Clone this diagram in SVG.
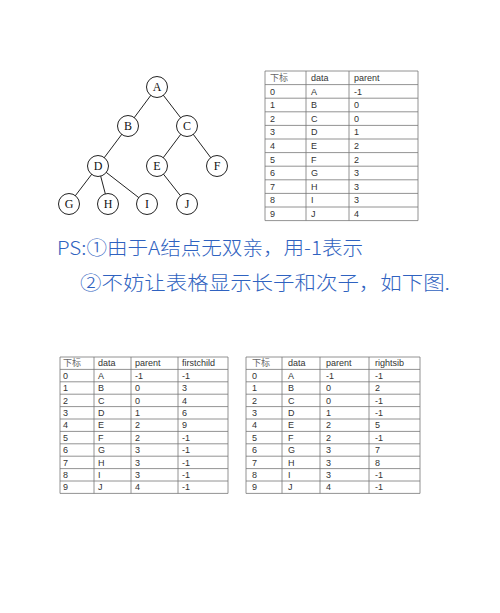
<svg xmlns="http://www.w3.org/2000/svg" width="500" height="613" viewBox="0 0 500 613">
<style>
.edge{stroke:#222;stroke-width:1}
.nd circle{fill:#fff;stroke:#222;stroke-width:1}
.nd text{font-family:"Liberation Serif",serif;font-size:12px;fill:#111;text-anchor:middle}
.grid{stroke:#777;stroke-width:0.8;fill:none}
.tb text{font-family:"Liberation Sans","Noto Sans CJK SC",sans-serif;font-size:9px;fill:#333}
.tb text.h{fill:#666}
.hw{font-family:"Noto Sans CJK SC",sans-serif;font-size:19px;fill:#2f62c0;font-weight:300}
</style>
<rect width="500" height="613" fill="#fff"/>
<g id="connectors">
<line class="edge" x1="157" y1="87" x2="128" y2="126"/>
<line class="edge" x1="157" y1="87" x2="187" y2="126"/>
<line class="edge" x1="128" y1="126" x2="98" y2="166"/>
<line class="edge" x1="187" y1="126" x2="157" y2="166"/>
<line class="edge" x1="187" y1="126" x2="217" y2="166"/>
<line class="edge" x1="98" y1="166" x2="69" y2="204"/>
<line class="edge" x1="98" y1="166" x2="108" y2="204"/>
<line class="edge" x1="98" y1="166" x2="147" y2="204"/>
<line class="edge" x1="157" y1="166" x2="187" y2="204"/>
</g>
<g id="nA" class="nd"><circle cx="157" cy="87" r="10.5"/><text x="157" y="91.3">A</text></g>
<g id="nB" class="nd"><circle cx="128" cy="126" r="10.5"/><text x="128" y="130.3">B</text></g>
<g id="nC" class="nd"><circle cx="187" cy="126" r="10.5"/><text x="187" y="130.3">C</text></g>
<g id="nD" class="nd"><circle cx="98" cy="166" r="10.5"/><text x="98" y="170.3">D</text></g>
<g id="nE" class="nd"><circle cx="157" cy="166" r="10.5"/><text x="157" y="170.3">E</text></g>
<g id="nF" class="nd"><circle cx="217" cy="166" r="10.5"/><text x="217" y="170.3">F</text></g>
<g id="nG" class="nd"><circle cx="69" cy="204" r="10.5"/><text x="69" y="208.3">G</text></g>
<g id="nH" class="nd"><circle cx="108" cy="204" r="10.5"/><text x="108" y="208.3">H</text></g>
<g id="nI" class="nd"><circle cx="147" cy="204" r="10.5"/><text x="147" y="208.3">I</text></g>
<g id="nJ" class="nd"><circle cx="187" cy="204" r="10.5"/><text x="187" y="208.3">J</text></g>

<g id="table1" class="tb">
<path class="grid" d="M265,71H418V220.6H265Z M306,71V220.6 M349,71V220.6 M265,84.6H418 M265,98.2H418 M265,111.8H418 M265,125.4H418 M265,139H418 M265,152.6H418 M265,166.2H418 M265,179.8H418 M265,193.4H418 M265,207H418"/>
<text class="h" x="270" y="81">下标</text><text x="311" y="81">data</text><text x="354" y="81">parent</text>
<text x="270" y="94.6">0</text><text x="311" y="94.6">A</text><text x="354" y="94.6">-1</text>
<text x="270" y="108.2">1</text><text x="311" y="108.2">B</text><text x="354" y="108.2">0</text>
<text x="270" y="121.8">2</text><text x="311" y="121.8">C</text><text x="354" y="121.8">0</text>
<text x="270" y="135.4">3</text><text x="311" y="135.4">D</text><text x="354" y="135.4">1</text>
<text x="270" y="149">4</text><text x="311" y="149">E</text><text x="354" y="149">2</text>
<text x="270" y="162.6">5</text><text x="311" y="162.6">F</text><text x="354" y="162.6">2</text>
<text x="270" y="176.2">6</text><text x="311" y="176.2">G</text><text x="354" y="176.2">3</text>
<text x="270" y="189.8">7</text><text x="311" y="189.8">H</text><text x="354" y="189.8">3</text>
<text x="270" y="203.4">8</text><text x="311" y="203.4">I</text><text x="354" y="203.4">3</text>
<text x="270" y="217">9</text><text x="311" y="217">J</text><text x="354" y="217">4</text>
</g>

<g id="note">
<text class="hw" x="57" y="255" textLength="306" lengthAdjust="spacingAndGlyphs">PS:①由于A结点无双亲，用-1表示</text>
<text class="hw" x="80" y="290" textLength="370" lengthAdjust="spacingAndGlyphs">②不妨让表格显示长子和次子，如下图.</text>
</g>

<g id="table2" class="tb">
<path class="grid" d="M60,357H228V493.4H60Z M94,357V493.4 M131,357V493.4 M178,357V493.4 M60,369.4H228 M60,381.8H228 M60,394.2H228 M60,406.6H228 M60,419H228 M60,431.4H228 M60,443.8H228 M60,456.2H228 M60,468.6H228 M60,481H228"/>
<text class="h" x="63" y="366.3">下标</text><text x="98" y="366.3">data</text><text x="135" y="366.3">parent</text><text x="182" y="366.3">firstchild</text>
<text x="63" y="378.7">0</text><text x="98" y="378.7">A</text><text x="135" y="378.7">-1</text><text x="182" y="378.7">-1</text>
<text x="63" y="391.1">1</text><text x="98" y="391.1">B</text><text x="135" y="391.1">0</text><text x="182" y="391.1">3</text>
<text x="63" y="403.5">2</text><text x="98" y="403.5">C</text><text x="135" y="403.5">0</text><text x="182" y="403.5">4</text>
<text x="63" y="415.9">3</text><text x="98" y="415.9">D</text><text x="135" y="415.9">1</text><text x="182" y="415.9">6</text>
<text x="63" y="428.3">4</text><text x="98" y="428.3">E</text><text x="135" y="428.3">2</text><text x="182" y="428.3">9</text>
<text x="63" y="440.7">5</text><text x="98" y="440.7">F</text><text x="135" y="440.7">2</text><text x="182" y="440.7">-1</text>
<text x="63" y="453.1">6</text><text x="98" y="453.1">G</text><text x="135" y="453.1">3</text><text x="182" y="453.1">-1</text>
<text x="63" y="465.5">7</text><text x="98" y="465.5">H</text><text x="135" y="465.5">3</text><text x="182" y="465.5">-1</text>
<text x="63" y="477.9">8</text><text x="98" y="477.9">I</text><text x="135" y="477.9">3</text><text x="182" y="477.9">-1</text>
<text x="63" y="490.3">9</text><text x="98" y="490.3">J</text><text x="135" y="490.3">4</text><text x="182" y="490.3">-1</text>
</g>

<g id="table3" class="tb">
<path class="grid" d="M246,357H420V493.4H246Z M282,357V493.4 M320,357V493.4 M369,357V493.4 M246,369.4H420 M246,381.8H420 M246,394.2H420 M246,406.6H420 M246,419H420 M246,431.4H420 M246,443.8H420 M246,456.2H420 M246,468.6H420 M246,481H420"/>
<text class="h" x="252" y="366.3">下标</text><text x="288" y="366.3">data</text><text x="326" y="366.3">parent</text><text x="375" y="366.3">rightsib</text>
<text x="252" y="378.7">0</text><text x="288" y="378.7">A</text><text x="326" y="378.7">-1</text><text x="375" y="378.7">-1</text>
<text x="252" y="391.1">1</text><text x="288" y="391.1">B</text><text x="326" y="391.1">0</text><text x="375" y="391.1">2</text>
<text x="252" y="403.5">2</text><text x="288" y="403.5">C</text><text x="326" y="403.5">0</text><text x="375" y="403.5">-1</text>
<text x="252" y="415.9">3</text><text x="288" y="415.9">D</text><text x="326" y="415.9">1</text><text x="375" y="415.9">-1</text>
<text x="252" y="428.3">4</text><text x="288" y="428.3">E</text><text x="326" y="428.3">2</text><text x="375" y="428.3">5</text>
<text x="252" y="440.7">5</text><text x="288" y="440.7">F</text><text x="326" y="440.7">2</text><text x="375" y="440.7">-1</text>
<text x="252" y="453.1">6</text><text x="288" y="453.1">G</text><text x="326" y="453.1">3</text><text x="375" y="453.1">7</text>
<text x="252" y="465.5">7</text><text x="288" y="465.5">H</text><text x="326" y="465.5">3</text><text x="375" y="465.5">8</text>
<text x="252" y="477.9">8</text><text x="288" y="477.9">I</text><text x="326" y="477.9">3</text><text x="375" y="477.9">-1</text>
<text x="252" y="490.3">9</text><text x="288" y="490.3">J</text><text x="326" y="490.3">4</text><text x="375" y="490.3">-1</text>
</g>
</svg>
